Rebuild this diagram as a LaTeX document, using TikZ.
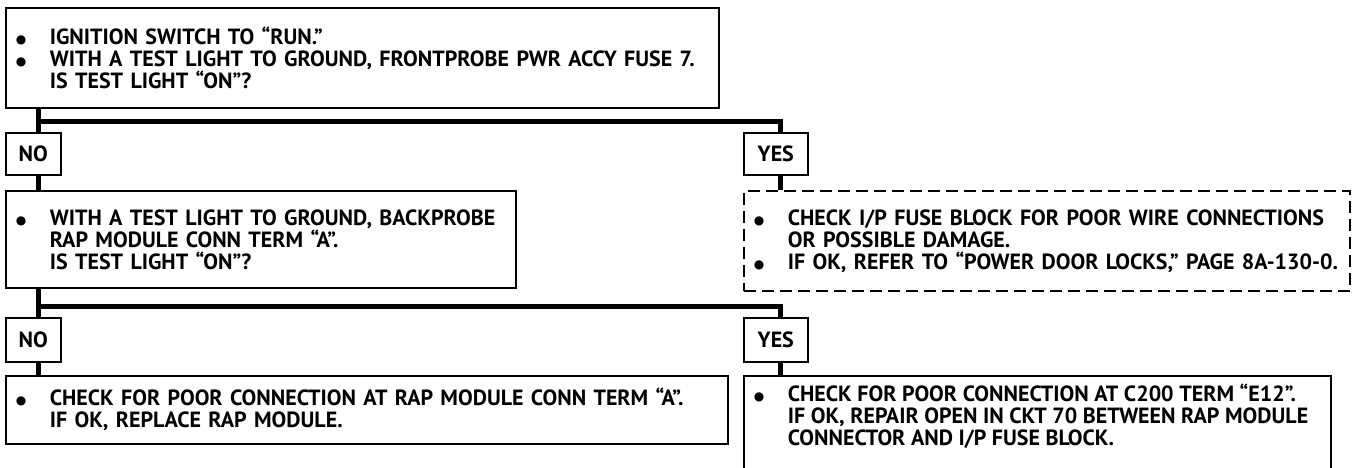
\documentclass[tikz,border=0pt]{standalone}
\usepackage{fontspec}
\setmainfont{PT Sans}
\newfontfamily\dotfont{DejaVu Sans}
\usetikzlibrary{positioning}
\newcommand{\bul}{\makebox[34pt][l]{\raisebox{1pt}{\dotfont\fontsize{12}{12}\selectfont ●}}}
\newcommand{\ind}{\hspace*{34pt}}

\begin{document}
\begin{tikzpicture}[x=1pt, y=-1pt, node distance=25pt,
  every node/.style={font=\fontsize{22}{22}\selectfont\bfseries},
  qbox/.style={draw, line width=1.6pt, anchor=north west, align=left, inner xsep=10pt, inner ysep=0pt},
  ansbox/.style={draw, line width=1.6pt, anchor=north west, minimum height=42pt, inner sep=0pt},
  bar/.style={line width=5pt}]
  \clip (0,0) rectangle (1354,468);
  % Questions and answers
  \node[qbox, text width=693pt, minimum height=100pt] (q1) at (5,7)
    {\bul IGNITION SWITCH TO “RUN.”\\
     \bul WITH A TEST LIGHT TO GROUND, FRONTPROBE PWR ACCY FUSE 7.\\
     \ind IS TEST LIGHT “ON”?};
  \node[ansbox, minimum width=55pt] (no1) at (5,132) {NO};
  \node[ansbox, minimum width=64pt] (yes1) at (743,132) {YES};
  \node[qbox, text width=490pt, minimum height=97pt] (q2) at (5,190)
    {\bul WITH A TEST LIGHT TO GROUND, BACKPROBE\\
     \ind RAP MODULE CONN TERM “A”.\\
     \ind IS TEST LIGHT “ON”?};
  \node[qbox, dash pattern=on 12pt off 6pt, text width=586pt, minimum height=100pt] (a1) at (743,190)
    {\bul CHECK I/P FUSE BLOCK FOR POOR WIRE CONNECTIONS\\
     \ind OR POSSIBLE DAMAGE.\\
     \bul IF OK, REFER TO “POWER DOOR LOCKS,” PAGE 8A-130-0.};
  \node[ansbox, minimum width=55pt, minimum height=44pt] (no2) at (5,317) {NO};
  \node[ansbox, minimum width=64pt, minimum height=44pt] (yes2) at (743,317) {YES};
  \node[qbox, text width=702pt, minimum height=68pt] (a2) at (5,375)
    {\bul CHECK FOR POOR CONNECTION AT RAP MODULE CONN TERM “A”.\\
     \ind IF OK, REPLACE RAP MODULE.};
  \node[qbox, inner ysep=8pt] (a3) at (743,375)
    {\parbox[c][130pt][t]{567pt}{\bul CHECK FOR POOR CONNECTION AT C200 TERM “E12”.\\
     \ind IF OK, REPAIR OPEN IN CKT 70 BETWEEN RAP MODULE\\
     \ind CONNECTOR AND I/P FUSE BLOCK.}};
  % Connectors
  \coordinate (lx) at (38,0);
  \coordinate (rx) at (780,0);
  \coordinate (j1) at (38,122);
  \coordinate (j2) at (38,306);
  \draw[bar] (q1.south -| lx) -- (no1.north -| lx);
  \draw[bar] (j1) -| (yes1.north -| rx);
  \draw[bar] (no1.south -| lx) -- (q2.north -| lx);
  \draw[bar] (yes1.south -| rx) -- (a1.north -| rx);
  \draw[bar] (q2.south -| lx) -- (no2.north -| lx);
  \draw[bar] (j2) -| (yes2.north -| rx);
  \draw[bar] (no2.south -| lx) -- (a2.north -| lx);
  \draw[bar] (yes2.south -| rx) -- (a3.north -| rx);
\end{tikzpicture}
\end{document}
